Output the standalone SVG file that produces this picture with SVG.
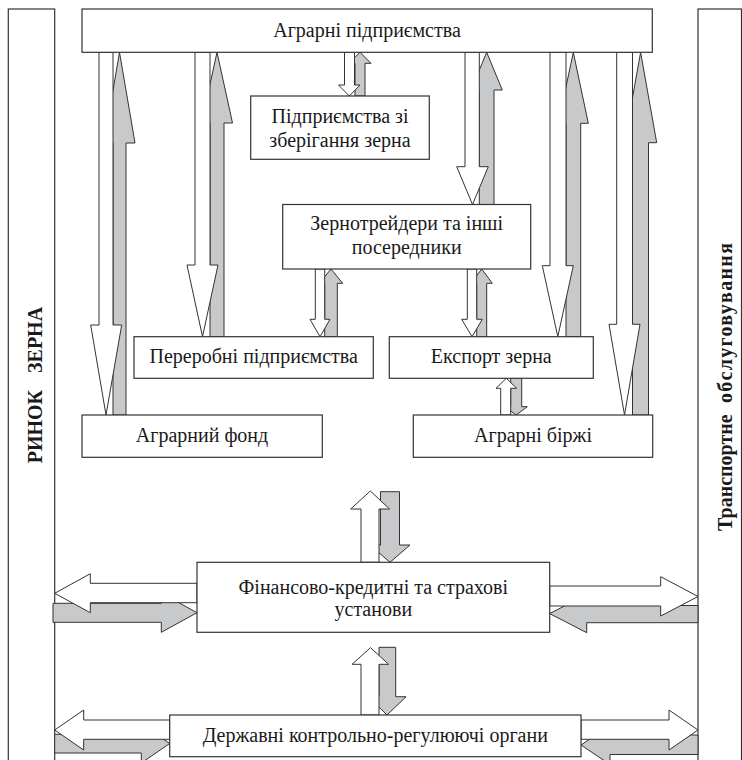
<svg xmlns="http://www.w3.org/2000/svg" width="742" height="760" viewBox="0 0 742 760">
<style>
.bar{fill:#fff;stroke:#333;stroke-width:1.2}
.box{fill:#fff;stroke:#333;stroke-width:1.2}
.w{fill:#fff;stroke:#333;stroke-width:1;stroke-linejoin:miter}
.g{fill:#c8c9cb;stroke:#333;stroke-width:1;stroke-linejoin:miter}
.t{font-family:"Liberation Serif","Times New Roman",serif;font-size:20px;fill:#1a1a1a;text-anchor:middle}
.vt{font-family:"Liberation Serif","Times New Roman",serif;font-size:20px;font-weight:bold;fill:#1a1a1a;text-anchor:start}
</style>
<rect width="742" height="760" fill="#fff"/>
<g id="market-bar">
<rect class="bar" x="8.3" y="9" width="46.4" height="760"/>
<text class="vt" transform="translate(41.5,463.3) rotate(-90)">РИНОК</text>
<text class="vt" transform="translate(41.5,373) rotate(-90)">ЗЕРНА</text>
</g>
<g id="transport-bar">
<rect class="bar" x="698" y="9" width="43.5" height="760"/>
<text class="vt" transform="translate(732,531) rotate(-90)">Транспортне</text>
<text class="vt" transform="translate(732,403) rotate(-90)" textLength="160" lengthAdjust="spacing">обслуговування</text>
</g>
<g id="connectors">
<polygon class="g" points="113,415 113,143 104,143 119.5,52.3 135,143 126,143 126,415"/>
<polygon class="w" points="99,52.3 113,52.3 113,325 121.7,325 106,415 90.7,325 99,325"/>
<polygon class="g" points="210,336.7 210,123 201.5,123 217,52.3 232.5,123 224,123 224,336.7"/>
<polygon class="w" points="195,52.3 210,52.3 210,265 218,265 202.5,336.7 187,265 195,265"/>
<polygon class="g" points="355,96 355,63.3 349,63.3 360,52.3 371,63.3 365,63.3 365,96"/>
<polygon class="w" points="344.5,52.3 354.5,52.3 354.5,85 360,85 349.3,96 338.5,85 344.5,85"/>
<polygon class="g" points="479.3,204.5 479.3,90 471,90 486.7,52.3 502.3,90 494,90 494,204.5"/>
<polygon class="w" points="465,52.3 479.3,52.3 479.3,166.7 488.3,166.7 472.5,204.5 456.7,166.7 465,166.7"/>
<polygon class="g" points="566,336.7 566,123.3 558.3,123.3 573.3,52.3 588.3,123.3 580.7,123.3 580.7,336.7"/>
<polygon class="w" points="550,52.3 566,52.3 566,265.7 573.3,265.7 557.8,336.7 542.3,265.7 550,265.7"/>
<polygon class="g" points="632.5,415 632.5,142.7 624.5,142.7 640.6,52.3 656.7,142.7 648.5,142.7 648.5,415"/>
<polygon class="w" points="616.7,52.3 632.5,52.3 632.5,324.3 640,324.3 624.5,415 609,324.3 616.7,324.3"/>
<polygon class="g" points="324.7,336.7 324.7,283.3 319.3,283.3 331,269 342.7,283.3 337.3,283.3 337.3,336.7"/>
<polygon class="w" points="315.3,269 324.7,269 324.7,319.3 330,319.3 320,336.7 310,319.3 315.3,319.3"/>
<polygon class="g" points="476.7,336.7 476.7,283.3 471,283.3 481.7,269 492.3,283.3 486.7,283.3 486.7,336.7"/>
<polygon class="w" points="467.3,269 476.7,269 476.7,319.3 482.3,319.3 472,336.7 461.7,319.3 467.3,319.3"/>
<polygon class="g" points="510.7,378.3 521.7,378.3 521.7,406.7 527.3,406.7 516.2,415 505,406.7 510.7,406.7"/>
<polygon class="w" points="500.7,415 500.7,388.3 496,388.3 506.3,378.3 516.7,388.3 510.7,388.3 510.7,415"/>
<polygon class="g" points="380.5,491.7 399.5,491.7 399.5,545 410,545 390,562.3 370,545 380.5,545"/>
<polygon class="w" points="361,562.3 361,509 350.7,509 370.3,491 389.6,509 379,509 379,562.3"/>
<polygon class="g" points="379,647.3 395.7,647.3 395.7,696.7 406,696.7 387,715 368.5,696.7 379,696.7"/>
<polygon class="w" points="361,715 361,664.3 352,664.3 370.5,647.7 388.6,664.3 379,664.3 379,715"/>
<polygon class="g" points="53,603.3 161.3,603.3 161.3,593 197,612.7 161.3,632.3 161.3,622.3 53,622.3"/>
<polygon class="w" points="197,583.3 90.3,583.3 90.3,573.7 54.7,593.3 90.3,612.7 90.3,602.7 197,602.7"/>
<polygon class="g" points="698,605.5 586.7,605.5 586.7,594.5 549.7,613.6 586.7,632.7 586.7,622.7 698,622.7"/>
<polygon class="w" points="549.7,586 660.7,586 660.7,576.7 698,596.5 660.7,616 660.7,606 549.7,606"/>
<polygon class="g" points="54.7,734.3 141.3,734.3 141.3,724 169.7,743.5 141.3,763 141.3,753 54.7,753"/>
<polygon class="w" points="169.7,720 83.7,720 83.7,710 54.7,730 83.7,750 83.7,739.3 169.7,739.3"/>
<polygon class="g" points="698,735 610,735 610,725.5 581,745 610,764.5 610,754.5 698,754.5"/>
<polygon class="w" points="581,720 669,720 669,710 698,730 669,750 669,739.3 581,739.3"/>
</g>
<g id="agro-enterprises">
<rect class="box" x="82" y="9" width="570.3" height="43.3"/>
<text class="t" x="367" y="37">Аграрні підприємства</text>
</g>
<g id="storage">
<rect class="box" x="250.7" y="96" width="178.6" height="63.3"/>
<text class="t" x="340" y="123.3">Підприємства зі</text>
<text class="t" x="340" y="146.5">зберігання зерна</text>
</g>
<g id="traders">
<rect class="box" x="282.7" y="204.5" width="248" height="64.5"/>
<text class="t" x="406.7" y="230">Зернотрейдери та інші</text>
<text class="t" x="406.7" y="253.5">посередники</text>
</g>
<g id="processing">
<rect class="box" x="134" y="336.7" width="239.3" height="41.6"/>
<text class="t" x="253.7" y="363">Переробні підприємства</text>
</g>
<g id="export">
<rect class="box" x="389.3" y="336.7" width="204" height="41.6"/>
<text class="t" x="491.3" y="363">Експорт зерна</text>
</g>
<g id="agro-fund">
<rect class="box" x="82" y="415" width="240.3" height="42.3"/>
<text class="t" x="202" y="442">Аграрний фонд</text>
</g>
<g id="exchanges">
<rect class="box" x="413.3" y="415" width="239.4" height="42.3"/>
<text class="t" x="533" y="442">Аграрні біржі</text>
</g>
<g id="finance">
<rect class="box" x="197" y="562.3" width="352.7" height="70"/>
<text class="t" x="373.3" y="593.5">Фінансово-кредитні та страхові</text>
<text class="t" x="373.3" y="616">установи</text>
</g>
<g id="state">
<rect class="box" x="169.7" y="715" width="411.3" height="41.7"/>
<text class="t" x="375.3" y="742">Державні контрольно-регулюючі органи</text>
</g>
</svg>
